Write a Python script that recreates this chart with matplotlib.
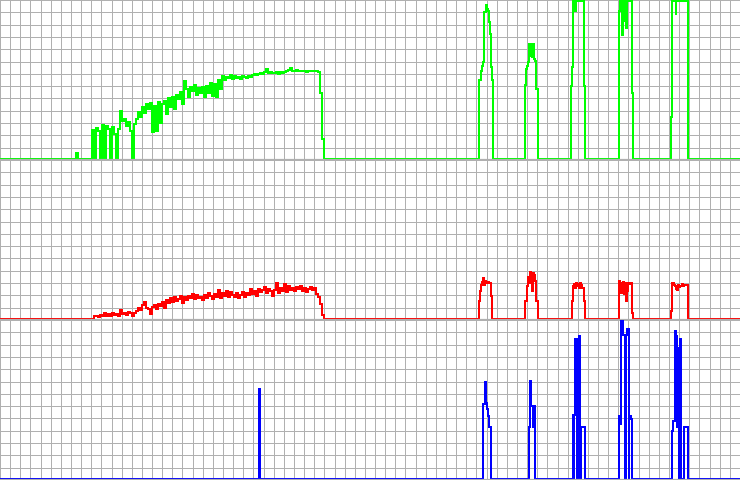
import numpy as np
import matplotlib
matplotlib.use("Agg")
import matplotlib.pyplot as plt

# x in samples (0..740), y in counts (0..160 per panel)
# slow ramps: one value every 2 samples
green_ramp_start = 90
green_ramp = [0, 29, 0, 31, 28, 0, 34, 0, 33, 30, 0, 32, 25, 0, 30, 48, 38, 40, 33, 37,
              28, 0, 35, 40, 47, 42, 52, 46, 55, 50, 56, 27, 53, 28, 57, 36, 55, 58, 45, 61,
              52, 62, 50, 64, 60, 67, 55, 78, 70, 62, 72, 68, 74, 64, 71, 66, 72, 62, 73, 66,
              76, 63, 75, 62, 80, 70, 84, 80, 83, 82, 85, 81, 84, 82, 83, 81, 84, 83, 82, 84,
              83, 85, 86, 85, 86, 87, 86, 88, 91, 87, 88, 87, 87, 88, 86, 88, 87, 88, 89, 90,
              92, 89, 89, 90, 89, 89, 89, 89, 88, 89, 89, 89, 89, 89, 88, 66, 20, 0]
green_blip = [(76, 6), (78, 0)]

red_ramp_start = 94
red_ramp = [3, 3, 2, 4, 3, 6, 3, 5, 3, 6, 4, 5, 3, 9, 5, 6, 4, 7, 6, 3,
            6, 8, 11, 9, 14, 17, 11, 10, 5, 12, 14, 10, 15, 13, 17, 11, 19, 16, 21, 17,
            22, 18, 20, 23, 16, 22, 19, 23, 21, 25, 20, 24, 21, 22, 19, 24, 21, 26, 23, 20,
            25, 22, 29, 21, 26, 23, 28, 22, 27, 24, 22, 26, 21, 24, 27, 22, 26, 24, 30, 25,
            28, 23, 30, 27, 29, 32, 26, 30, 28, 23, 29, 36, 26, 31, 28, 35, 27, 33, 29, 31,
            28, 32, 30, 33, 28, 31, 27, 30, 32, 29, 31, 25, 22, 15, 4, 0]

# bursts: (sample, value) step points
green_bursts = [(479.3, 80), (481, 89), (482, 94), (483, 98), (484, 148), (485.7, 151), (486, 155),
                (487, 151), (487.7, 149), (488.7, 138), (490, 126), (491, 93), (492, 80), (492.7, 0),
                (525.3, 74), (526.3, 91), (527, 94), (528, 98), (529, 116), (531, 104), (531.7, 116),
                (532.3, 103), (533, 116), (534, 101), (535, 99), (536, 70), (538.3, 0),
                (571, 73), (572, 93), (573.3, 159), (575, 149), (576, 159), (584.3, 73), (585.3, 0),
                (618.7, 149), (619.5, 159), (622, 125), (623, 159), (624, 139), (625, 159), (626, 132),
                (627, 159), (632, 66), (633.3, 0),
                (671, 42), (672, 159), (675.7, 146), (676.3, 159), (687.7, 0)]

red_bursts = [(479.3, 18), (480, 28), (481, 34), (482, 37), (483, 41), (484, 34), (485, 38), (486, 36),
              (488, 37), (489, 36), (491, 23), (492, 21), (492.3, 0),
              (525.3, 18), (526.5, 33), (528, 42), (529, 36), (530, 47), (531, 46), (532, 28), (533, 46),
              (534, 44), (535, 38), (536, 18), (538.3, 0),
              (572, 18), (573, 33), (574, 35), (575, 31), (576, 36), (577, 33), (578, 35), (579, 31),
              (580, 36), (581, 34), (582, 31), (584, 18), (585.3, 0),
              (619, 38), (620, 36), (621, 26), (622, 35), (623, 37), (624, 25), (625, 36), (626, 18),
              (627, 28), (628, 36), (629, 35), (631, 36), (632, 6), (633.3, 0),
              (671, 8), (672, 36), (674, 34), (675, 33), (676, 30), (677, 29), (678, 34), (679, 32),
              (680, 33), (682, 35), (683, 33), (684, 34), (687.7, 0)]

blue_bursts = [(258.5, 91), (260, 0),
               (483.3, 75), (484.7, 98), (486.3, 76), (487, 70), (488.3, 63), (489.3, 52), (490.7, 0),
               (529.3, 52), (530.3, 99), (531, 73), (532.7, 52), (533.3, 73), (535.3, 0),
               (573, 64), (573.7, 0), (574, 64), (575, 141), (576.7, 0), (577, 141), (578.3, 0),
               (578.7, 144), (580.3, 0), (580.7, 52), (584.7, 0),
               (618.7, 52), (619.3, 63), (620, 55), (620.7, 63), (621.3, 159), (623, 145), (624.5, 0),
               (625.7, 145), (627, 151), (628.7, 0), (629.3, 63), (631, 60), (632.3, 0),
               (672, 48), (673, 58), (675, 149), (676.3, 144), (677.3, 52), (678.7, 0), (679, 132),
               (680, 141), (681.3, 0), (684.3, 52), (688, 0)]


def build(ramp_start, ramp, extra):
    pts = list(extra)
    if ramp:
        xs = np.arange(len(ramp)) * 2 + ramp_start
        pts += list(zip(xs, ramp))
    pts.sort()
    x = [0] + [p[0] for p in pts] + [740]
    y = [0] + [p[1] for p in pts] + [0]
    return x, y


panels = [
    (build(green_ramp_start, green_ramp, green_blip + green_bursts), "#00ff00"),
    (build(red_ramp_start, red_ramp, red_bursts), "#ff0000"),
    (build(0, [], blue_bursts), "#0000ff"),
]

fig = plt.figure(figsize=(7.4, 4.8), dpi=100)
fig.patch.set_facecolor("white")
for i, ((x, y), col) in enumerate(panels):
    ax = fig.add_axes([0, 1 - (i + 1) / 3, 1, 1 / 3])
    ax.set_xlim(0, 740)
    ax.set_ylim(-1, 160)
    ax.set_xticks(np.linspace(0, 740, 74))
    ax.set_yticks(np.linspace(-1, 160, 14))
    ax.grid(True, color="#b0b0b0", lw=0.7, antialiased=False)
    ax.tick_params(length=0, labelbottom=False, labelleft=False)
    for s in ["top", "left", "right"]:
        ax.spines[s].set_visible(False)
    ax.spines["bottom"].set_color("#b0b0b0")
    ax.spines["bottom"].set_linewidth(1.6)
    ax.set_axisbelow(True)
    ax.plot(x, y, drawstyle="steps-post", color=col, lw=1.1, antialiased=False)

fig.savefig("out.png", dpi=100, facecolor="white")
